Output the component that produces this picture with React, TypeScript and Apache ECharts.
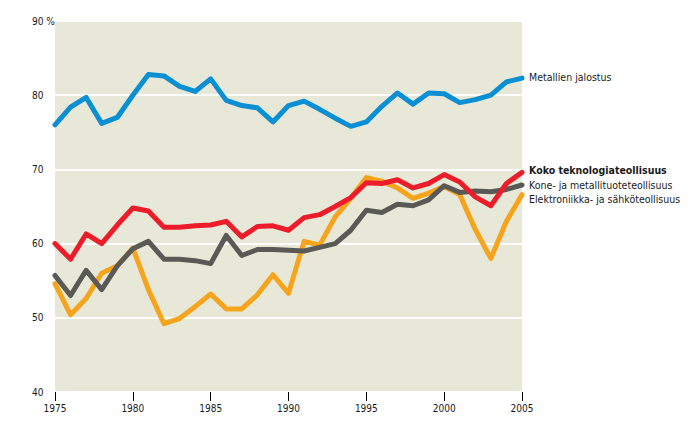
import React, { useEffect, useRef } from "react";
import * as echarts from "echarts";

const years = [1975,1976,1977,1978,1979,1980,1981,1982,1983,1984,1985,1986,1987,1988,1989,1990,1991,1992,1993,1994,1995,1996,1997,1998,1999,2000,2001,2002,2003,2004,2005];

const metallienJalostus = [76.0,78.4,79.7,76.2,77.0,80.0,82.8,82.6,81.2,80.5,82.2,79.3,78.6,78.3,76.4,78.6,79.2,78.1,76.9,75.8,76.4,78.5,80.3,78.8,80.3,80.2,79.0,79.4,80.0,81.8,82.3];
const kokoTeknologia = [60.0,57.9,61.3,60.0,62.5,64.8,64.4,62.2,62.2,62.4,62.5,63.0,60.9,62.3,62.4,61.8,63.5,63.9,65.0,66.2,68.2,68.1,68.6,67.5,68.1,69.3,68.3,66.3,65.1,68.1,69.6];
const koneMetalli = [55.7,53.0,56.4,53.8,57.0,59.3,60.3,57.9,57.9,57.7,57.3,61.1,58.4,59.2,59.2,59.1,59.0,59.5,60.0,61.8,64.5,64.2,65.3,65.1,65.9,67.8,66.9,67.1,67.0,67.3,67.9];
const elektroniikka = [54.6,50.4,52.6,56.0,57.0,59.4,53.8,49.2,49.9,51.5,53.2,51.2,51.2,53.1,55.8,53.3,60.3,59.8,63.6,66.1,68.9,68.4,67.5,66.1,66.8,67.7,66.6,61.9,58.0,63.0,66.6];

const names = {
  metal: "Metallien jalostus",
  koko: "Koko teknologiateollisuus",
  kone: "Kone- ja metallituoteteollisuus",
  elek: "Elektroniikka- ja sähköteollisuus",
};

const FONT = "'Liberation Sans Narrow', 'DejaVu Sans Condensed', 'Open Sans', sans-serif";

function pairs(vals: number[]) {
  return years.map((y, i) => [y, vals[i]]);
}

function lineSeries(name: string, vals: number[], color: string, dy: number, bold = false, z = 2) {
  return {
    type: "line",
    name,
    data: pairs(vals),
    showSymbol: false,
    symbol: "none",
    z,
    lineStyle: { color, width: 5, join: "round", cap: "round" },
    endLabel: {
      show: true,
      formatter: name,
      distance: 7,
      offset: [0, dy],
      color: "#1a1a1a",
      fontFamily: FONT,
      fontSize: 10.5,
      fontWeight: bold ? "bold" : "normal",
    },
  };
}

export default function App() {
  const ref = useRef<HTMLDivElement>(null);
  useEffect(() => {
    if (!ref.current) return;
    const chart = echarts.init(ref.current, null, { renderer: "svg" });
    chart.setOption({
      animation: false,
      grid: {
        left: 47,
        right: 178,
        top: 13,
        bottom: 35,
        show: true,
        backgroundColor: "#e8e8d8",
        borderWidth: 0,
      },
      xAxis: {
        type: "value",
        min: 1975,
        max: 2005,
        interval: 5,
        axisLine: { show: false },
        axisTick: { show: true, length: 9, lineStyle: { color: "#000", width: 1 } },
        splitLine: { show: false },
        axisLabel: {
          formatter: (v: number) => String(v),
          color: "#1a1a1a",
          fontFamily: FONT,
          fontSize: 10,
          margin: 11,
        },
      },
      yAxis: {
        type: "value",
        min: 40,
        max: 90,
        interval: 10,
        axisLine: { show: false },
        axisTick: { show: false },
        splitLine: { show: true, lineStyle: { color: "#ffffff", width: 2 } },
        axisLabel: {
          formatter: (v: number) => (v === 90 ? "90 %" : String(v)),
          color: "#1a1a1a",
          fontFamily: FONT,
          fontSize: 10,
          align: "left",
          margin: 23,
        },
      },
      series: [
        lineSeries(names.elek, elektroniikka, "#f7a41d", 4, false, 2),
        lineSeries(names.kone, koneMetalli, "#595a55", 0, false, 3),
        lineSeries(names.koko, kokoTeknologia, "#ec1c2a", -2, true, 4),
        lineSeries(names.metal, metallienJalostus, "#0a8fd5", -1, false, 5),
      ],
    });
    return () => chart.dispose();
  }, []);
  return <div ref={ref} style={{ width: 692, height: 419 }} />;
}
